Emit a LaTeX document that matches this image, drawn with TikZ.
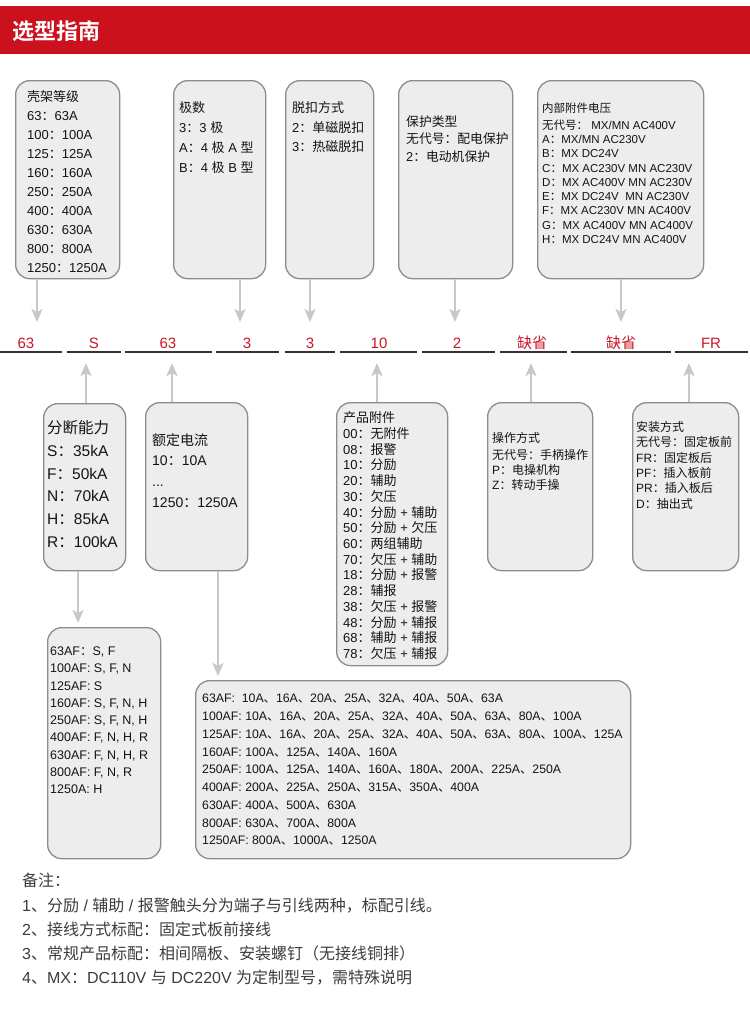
\documentclass[tikz,border=0pt]{standalone}
\usepackage{fontspec}
\setmainfont{Liberation Sans}
\newfontfamily\latinfont{Liberation Sans}
\newfontfamily\cjkfont{Noto Sans CJK SC}[BoldFont={Noto Sans CJK SC Bold}]
\usetikzlibrary{arrows.meta}

\definecolor{hdrred}{RGB}{204,17,30}
\definecolor{codered}{RGB}{200,22,38}
\definecolor{framegray}{RGB}{140,140,140}
\definecolor{framefill}{RGB}{237,237,237}
\definecolor{feedgray}{RGB}{200,200,200}
\definecolor{rulegray}{RGB}{51,51,51}
\definecolor{ink}{RGB}{20,20,20}
\definecolor{noteink}{RGB}{60,60,60}

% Chinese characters go to the CJK face, the rest stays Arial-like
\XeTeXinterchartokenstate=1
\newXeTeXintercharclass\cjkclass
\newcount\cjkchar
\def\markcjk#1#2{\cjkchar=#1 \loop\XeTeXcharclass\cjkchar=\cjkclass
  \advance\cjkchar by 1 \ifnum\cjkchar<#2 \repeat}
\markcjk{"3000}{"3040}
\markcjk{"4E00}{"A000}
\markcjk{"FF00}{"FFF0}
\XeTeXinterchartoks 0 \cjkclass={\cjkfont}
\XeTeXinterchartoks 4095 \cjkclass={\cjkfont}
\XeTeXinterchartoks \cjkclass 0={\latinfont}
\XeTeXinterchartoks \cjkclass 4095={\latinfont}

\begin{document}
\begin{tikzpicture}[
  x=1pt, y=-1pt,
  card/.style={draw=framegray, fill=framefill, line width=1.3pt, rounded corners=14pt,
    anchor=north west, inner sep=0pt},
  entry/.style={anchor=north west, align=left, inner sep=0pt, text=ink},
  feed/.style={draw=feedgray, line width=2.4pt, -{Stealth[length=13pt, width=11pt, inset=3pt]}},
  code/.style={text=codered, font=\fontsize{15}{15}\selectfont, inner sep=0pt},
  rule/.style={draw=rulegray, line width=2.2pt},
]
\useasboundingbox (0,0) rectangle (750,1013);

% header band
\node[fill=hdrred, minimum width=750pt, minimum height=48pt, inner sep=0pt, anchor=north west] (band) at (0,6) {};
\node[anchor=west, text=white, font=\bfseries\fontsize{22}{22}\selectfont, inner sep=0pt] (title) at (12,31) {选型指南};

% upper cards
\node[card, minimum width=104pt, minimum height=198pt] (shell) at (15,80) {};
\node[entry, font=\fontsize{13}{19}\selectfont] (shelltxt) at (27,90.5)
  {壳架等级\\63：63A\\100：100A\\125：125A\\160：160A\\250：250A\\400：400A\\630：630A\\800：800A\\1250：1250A};

\node[card, minimum width=92pt, minimum height=198pt] (poles) at (173,80) {};
\node[entry, font=\fontsize{13}{20}\selectfont] (polestxt) at (179,101.5)
  {极数\\3：3 极\\A：4 极 A 型\\B：4 极 B 型};

\node[card, minimum width=88pt, minimum height=198pt] (trip) at (285,80) {};
\node[entry, font=\fontsize{13}{19.5}\selectfont] (triptxt) at (292,101.5)
  {脱扣方式\\2：单磁脱扣\\3：热磁脱扣};

\node[card, minimum width=114pt, minimum height=198pt] (guard) at (398,80) {};
\node[entry, font=\fontsize{12.8}{17.5}\selectfont] (guardtxt) at (406,115.5)
  {保护类型\\无代号：配电保护\\2：电动机保护};

\node[card, minimum width=166pt, minimum height=198pt] (volt) at (537,80) {};
\node[entry, font=\fontsize{11.5}{14.3}\selectfont] (volttxt) at (542,102.2)
  {内部附件电压\\[2.7pt]无代号： MX/MN AC400V\\A：MX/MN AC230V\\B：MX DC24V\\C：MX AC230V MN AC230V\\D：MX AC400V MN AC230V\\E：MX DC24V\ \ MN AC230V\\F：MX AC230V MN AC400V\\G：MX AC400V MN AC400V\\H：MX DC24V MN AC400V};

% code row
\foreach \x/\t [count=\i] in {26/63, 94/S, 168/63, 247/3, 310/3, 379/10, 457/2, 532/缺省, 621/缺省, 711/FR}
  \node[code] (c\i) at (\x,343) {\t};
\foreach \a/\b in {0/62, 67/121, 125/212, 216/279, 285/335, 340/417, 422/495, 500/567, 571/671, 675/748}
  \draw[rule] (\a,352) -- (\b,352);

% arrows into the code row
\coordinate (in1) at (37,322);
\coordinate (in2) at (240,322);
\coordinate (in3) at (310,322);
\coordinate (in4) at (455,322);
\coordinate (in5) at (621,322);
\draw[feed] (in1 |- shell.south) -- (in1);
\draw[feed] (in2 |- poles.south) -- (in2);
\draw[feed] (in3 |- trip.south) -- (in3);
\draw[feed] (in4 |- guard.south) -- (in4);
\draw[feed] (in5 |- volt.south) -- (in5);

% lower cards
\node[card, minimum width=82pt, minimum height=167pt] (brk) at (43,403) {};
\node[entry, font=\fontsize{15.5}{22.8}\selectfont] (brktxt) at (47,420.2)
  {分断能力\\S：35kA\\F：50kA\\N：70kA\\H：85kA\\R：100kA};

\node[card, minimum width=102pt, minimum height=168pt] (rated) at (145,402) {};
\node[entry, font=\fontsize{14}{20.7}\selectfont] (ratedtxt) at (152,433)
  {额定电流\\10：10A\\...\\1250：1250A};

\node[card, minimum width=111pt, minimum height=263pt] (acc) at (336,402) {};
\node[entry, font=\fontsize{13}{15.73}\selectfont] (acctxt) at (343,411.5)
  {产品附件\\00：无附件\\08：报警\\10：分励\\20：辅助\\30：欠压\\40：分励 + 辅助\\50：分励 + 欠压\\60：两组辅助\\70：欠压 + 辅助\\18：分励 + 报警\\28：辅报\\38：欠压 + 报警\\48：分励 + 辅报\\68：辅助 + 辅报\\78：欠压 + 辅报};

\node[card, minimum width=105pt, minimum height=168pt] (oper) at (487,402) {};
\node[entry, font=\fontsize{12}{15}\selectfont] (opertxt) at (492,432)
  {操作方式\\[2pt]无代号：手柄操作\\P：电操机构\\Z：转动手操};

\node[card, minimum width=106pt, minimum height=168pt] (mount) at (632,402) {};
\node[entry, font=\fontsize{12}{15.4}\selectfont] (mounttxt) at (636,421)
  {安装方式\\无代号：固定板前\\FR：固定板后\\PF：插入板前\\PR：插入板后\\D：抽出式};

% arrows up to the code row
\coordinate (up1) at (86,363);
\coordinate (up2) at (172,363);
\coordinate (up3) at (377,363);
\coordinate (up4) at (531,363);
\coordinate (up5) at (689,363);
\draw[feed] (up1 |- brk.north) -- (up1);
\draw[feed] (up2 |- rated.north) -- (up2);
\draw[feed] (up3 |- acc.north) -- (up3);
\draw[feed] (up4 |- oper.north) -- (up4);
\draw[feed] (up5 |- mount.north) -- (up5);

% frame / current tables
\node[card, minimum width=113pt, minimum height=231pt] (brkmap) at (47,627) {};
\node[entry, font=\fontsize{12.5}{17.25}\selectfont] (brkmaptxt) at (50,646.8)
  {63AF：S, F\\100AF: S, F, N\\125AF: S\\160AF: S, F, N, H\\250AF: S, F, N, H\\400AF: F, N, H, R\\630AF: F, N, H, R\\800AF: F, N, R\\1250A: H};

\node[card, minimum width=435pt, minimum height=178pt] (ratedmap) at (195,680) {};
\node[entry, font=\fontsize{12.3}{17.75}\selectfont] (ratedmaptxt) at (202,694)
  {63AF:\ \ 10A、16A、20A、25A、32A、40A、50A、63A\\
   100AF: 10A、16A、20A、25A、32A、40A、50A、63A、80A、100A\\
   125AF: 10A、16A、20A、25A、32A、40A、50A、63A、80A、100A、125A\\
   160AF: 100A、125A、140A、160A\\
   250AF: 100A、125A、140A、160A、180A、200A、225A、250A\\
   400AF: 200A、225A、250A、315A、350A、400A\\
   630AF: 400A、500A、630A\\
   800AF: 630A、700A、800A\\
   1250AF: 800A、1000A、1250A};

\coordinate (dn1) at (78,623);
\coordinate (dn2) at (218,676);
\draw[feed] (dn1 |- brk.south) -- (dn1);
\draw[feed] (dn2 |- rated.south) -- (dn2);

% remarks
\node[entry, text=noteink, font=\fontsize{16}{24.3}\selectfont] (remarks) at (22,873)
  {备注：\\
   1、分励 / 辅助 / 报警触头分为端子与引线两种，标配引线。\\
   2、接线方式标配：固定式板前接线\\
   3、常规产品标配：相间隔板、安装螺钉（无接线铜排）\\
   4、MX：DC110V 与 DC220V 为定制型号，需特殊说明};
\end{tikzpicture}
\end{document}
